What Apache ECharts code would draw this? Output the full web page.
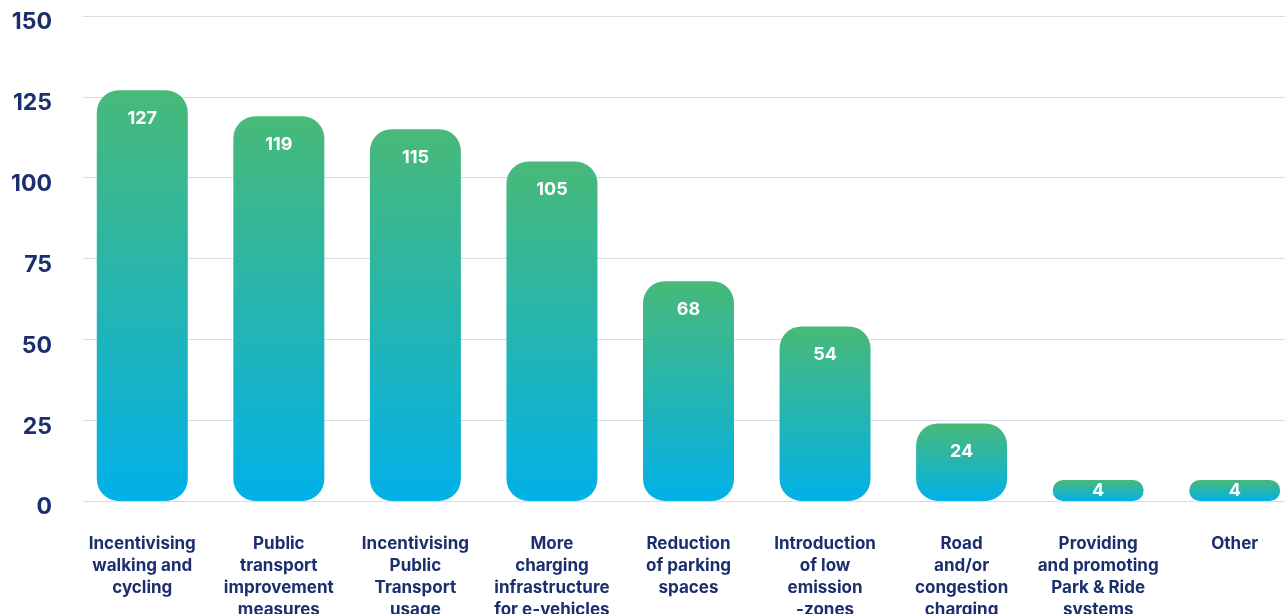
<!DOCTYPE html>
<html><head><meta charset="utf-8">
<script src="https://cdn.jsdelivr.net/npm/echarts@6/dist/echarts.min.js"></script>
<style>html,body{margin:0;padding:0;background:#fff}#c{width:1285px;height:614px}</style>
</head><body><div id="c"></div>
<script>
const categories = [
  "Incentivising\nwalking and\ncycling",
  "Public\ntransport\nimprovement\nmeasures",
  "Incentivising\nPublic\nTransport\nusage",
  "More\ncharging\ninfrastructure\nfor e-vehicles",
  "Reduction\nof parking\nspaces",
  "Introduction\nof low\nemission\n-zones",
  "Road\nand/or\ncongestion\ncharging",
  "Providing\nand promoting\nPark & Ride\nsystems",
  "Other"
];
const values = [127, 119, 115, 105, 68, 54, 24, 4, 4];
const yTicks = [0, 25, 50, 75, 100, 125, 150];

const navy = '#1b2f6e';
const font = 'Inter';
const chart = echarts.init(document.getElementById('c'));
const grad = new echarts.graphic.LinearGradient(0, 0, 0, 1, [
  {offset: 0, color: '#48b978'},
  {offset: 1, color: '#02b1e8'}
]);
chart.setOption({
  animation: false,
  grid: [
    {left: 74, width: 1229, top: 16, height: 485, containLabel: false, outerBoundsMode: 'none'},
    {left: 83, width: 1202, top: 16, height: 485, containLabel: false, outerBoundsMode: 'none'}
  ],
  xAxis: [
    {type: 'category', gridIndex: 0, data: categories,
     axisLine: {show: false}, axisTick: {show: false},
     axisLabel: {interval: 0, margin: 40, color: navy, fontFamily: font, fontWeight: 'bold', fontSize: 17, lineHeight: 22, verticalAlign: 'top', padding: [-8,0,0,0]}},
    {type: 'value', gridIndex: 1, show: false}
  ],
  yAxis: [
    {type: 'value', gridIndex: 0, min: yTicks[0], max: yTicks[yTicks.length-1], interval: 25, show: false},
    {type: 'value', gridIndex: 1, min: yTicks[0], max: yTicks[yTicks.length-1], interval: 25,
     axisLine: {show: false}, axisTick: {show: false},
     splitLine: {lineStyle: {color: '#d6dce8', width: 1}},
     axisLabel: {margin: 31, color: navy, fontFamily: font, fontWeight: 'bold', fontSize: 23, verticalAlign: 'top', padding: [-5,0,0,0]}}
  ],
  series: [{
    type: 'bar', xAxisIndex: 0, yAxisIndex: 0,
    barWidth: 91, barMinHeight: 21,
    data: values.map(v => ({value: v, label: v < 10 ? {position: 'inside'} : {}})),
    itemStyle: {color: grad, borderRadius: 22},
    label: {show: true, position: 'insideTop', distance: 19, color: '#fff', fontFamily: font, fontWeight: 'bold', fontSize: 18}
  }]
});
</script></body></html>
